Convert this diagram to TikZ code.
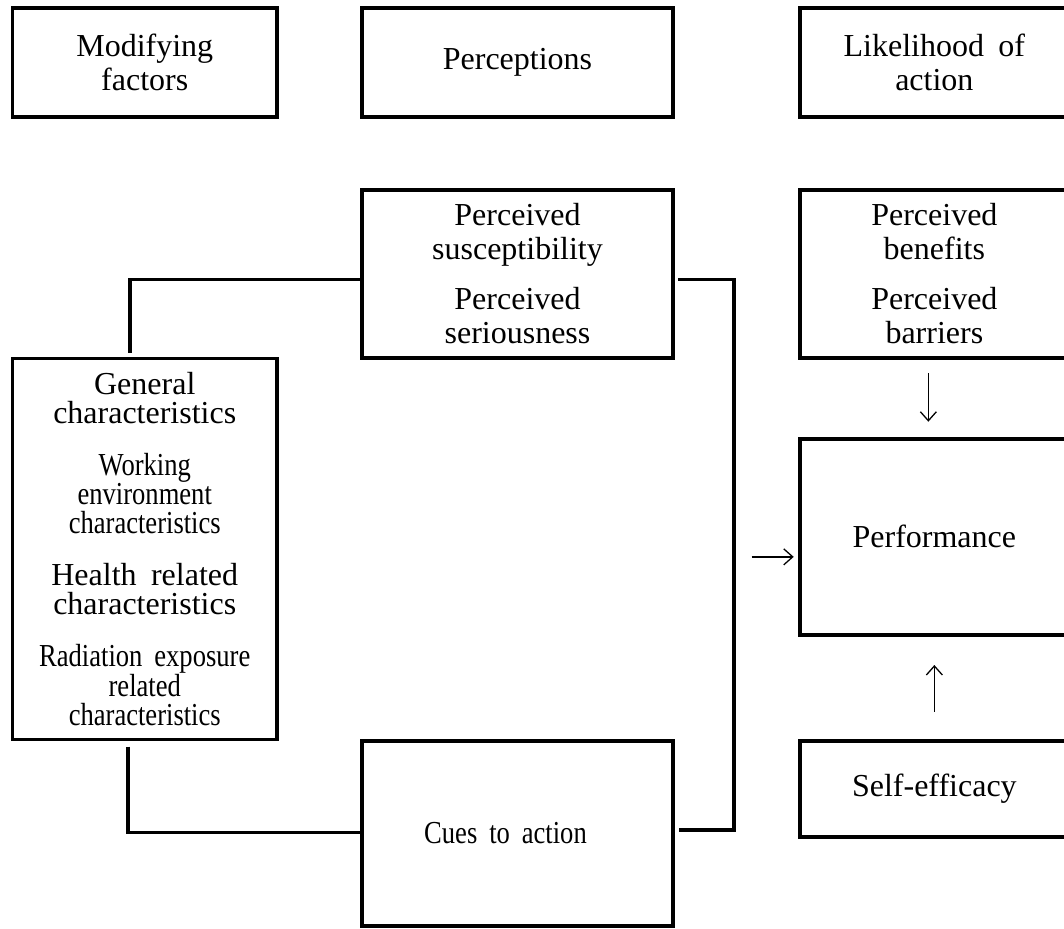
\documentclass[tikz,border=0pt]{standalone}
\usepackage{fontspec}
\setmainfont[WordSpace=1.8]{Liberation Serif}
\newfontfamily\condfont[FakeStretch=0.83,WordSpace=1.8]{Liberation Serif}
\usetikzlibrary{arrows.meta,calc}
\begin{document}
\begin{tikzpicture}[x=1pt,y=-1pt,
  box/.style={draw,line width=3.8pt,inner sep=0pt,outer sep=0pt,align=center,
    font=\fontsize{32}{34}\selectfont},
  conn/.style={line width=3.8pt},
  arr/.style={line width=1.3pt,-{Straight Barb[length=9pt,width=16pt]}}
]
\useasboundingbox (0,0) rectangle (1064,928);
% top row
\node[box,minimum width=264.5pt,minimum height=109pt] (mod) at (144.75,62.5) {Modifying\\factors};
\node[box,minimum width=311pt,minimum height=109pt] (perc) at (517.5,62.5) {Perceptions};
\node[box,minimum width=269.3pt,minimum height=109pt] (like) at (934.35,62.5) {Likelihood of\\action};
% second row
\node[box,minimum width=311pt,minimum height=168pt] (susc) at (517.5,274)
  {Perceived\\susceptibility\\[16pt]Perceived\\seriousness};
\node[box,minimum width=269.3pt,minimum height=168pt] (bene) at (934.35,274)
  {Perceived\\benefits\\[16pt]Perceived\\barriers};
% left column
\node[box,minimum width=264.5pt,minimum height=381pt,font=\fontsize{32}{29}\selectfont] (gen) at (144.75,549)
  {General\\characteristics\\[23pt]{\condfont Working}\\{\condfont environment}\\{\condfont characteristics}\\[23pt]Health related\\characteristics\\[23pt]{\condfont Radiation exposure}\\{\condfont related}\\{\condfont characteristics}};
% right column
\node[box,minimum width=269.3pt,minimum height=196.3pt] (perf) at (934.35,536.85) {Performance};
\node[box,minimum width=269.3pt,minimum height=96.3pt] (self) at (934.35,788.85) {Self-efficacy};
% bottom
\node[box,minimum width=311pt,minimum height=185.3pt] (cues) at (517.5,833.35) {\condfont Cues to action\hspace*{24pt}};
% connectors
\coordinate (ja) at (130.3,279.5);
\coordinate (jc) at (128,832.5);
\coordinate (jt) at (733.7,279.5);
\coordinate (jb) at (733.7,829.7);
\draw[conn] ($(gen.north -| ja)+(0,-6)$) -- (ja) -- (susc.west |- ja);
\draw[conn] ($(gen.south -| jc)+(0,7)$) -- (jc) -- (cues.west |- jc);
\draw[conn] ($(susc.east |- jt)+(5,0)$) -- (jt) -- (jb) -- ($(cues.east |- jb)+(6,0)$);
% arrows
\draw[arr] ($(bene.south)+(-6,15)$) -- ($(perf.north)+(-6,-17)$);
\draw[arr] ($(self.north)+(0,-29)$) -- ($(perf.south)+(0,30)$);
\draw[arr] ($(perf.west)+(-48,20)$) -- ($(perf.west)+(-6,20)$);
\end{tikzpicture}
\end{document}
